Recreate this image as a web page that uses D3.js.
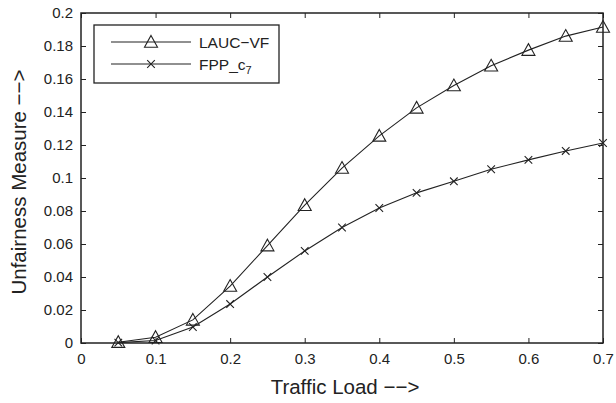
<!DOCTYPE html>
<html><head><meta charset="utf-8">
<script src="https://cdn.jsdelivr.net/npm/d3@7"></script>
<style>body{margin:0;background:#fff;} text{font-family:"Liberation Sans",Arial,sans-serif;fill:#222;}</style>
</head><body><svg id="c" width="616" height="403"></svg>
<script>
const loads = [0.05,0.1,0.15,0.2,0.25,0.3,0.35,0.4,0.45,0.5,0.55,0.6,0.65,0.7];
const laucVF = [0.0005,0.0035,0.014,0.0345,0.059,0.0835,0.106,0.1255,0.1425,0.156,0.168,0.1775,0.186,0.1915];
const fppC7 = [0.0002,0.0015,0.0097,0.0236,0.040,0.0558,0.070,0.0818,0.091,0.098,0.1053,0.111,0.1164,0.1212];
const xTicks = [0,0.1,0.2,0.3,0.4,0.5,0.6,0.7];
const yTicks = [0,0.02,0.04,0.06,0.08,0.1,0.12,0.14,0.16,0.18,0.2];
const seriesNames = ["LAUC\u2212VF","FPP_c"];

const svg = d3.select("#c");
const L=81,R=603,T=13,B=343;
const x = d3.scaleLinear().domain([0,0.7]).range([L,R]);
const y = d3.scaleLinear().domain([0,0.2]).range([B,T]);
const fmt = d => d===0?"0":String(+d.toFixed(2));
const FS = 15;

const tl=5;
const g = svg.append("g");
const ax = g.append("g").attr("transform",`translate(0,${B})`).call(d3.axisBottom(x).tickValues(xTicks).tickSizeInner(-tl).tickSizeOuter(0).tickPadding(10).tickFormat(fmt));
const axT = g.append("g").attr("transform",`translate(0,${T})`).call(d3.axisTop(x).tickValues(xTicks).tickSizeInner(-tl).tickSizeOuter(0).tickFormat(""));
const ay = g.append("g").attr("transform",`translate(${L},0)`).call(d3.axisLeft(y).tickValues(yTicks).tickSizeInner(-tl).tickSizeOuter(0).tickPadding(8).tickFormat(fmt));
const ayR = g.append("g").attr("transform",`translate(${R},0)`).call(d3.axisRight(y).tickValues(yTicks).tickSizeInner(-tl).tickSizeOuter(0).tickFormat(""));
[ax,axT,ay,ayR].forEach(a=>{a.select(".domain").remove();a.selectAll("line").attr("stroke","#222").attr("stroke-width",1);a.selectAll("text").attr("font-size",FS).attr("fill","#222").attr("font-family","Liberation Sans, Arial, sans-serif");});
svg.append("rect").attr("x",L).attr("y",T).attr("width",R-L).attr("height",B-T).attr("fill","none").attr("stroke","#222").attr("stroke-width",1.5);

const line = d3.line().x((d,i)=>x(loads[i])).y(d=>y(d));
svg.append("path").datum(laucVF).attr("d",line).attr("fill","none").attr("stroke","#222").attr("stroke-width",1.1);
svg.append("path").datum(fppC7).attr("d",line).attr("fill","none").attr("stroke","#222").attr("stroke-width",1.1);

const tri = (cx,cy,s=6.5)=>`M${cx},${cy-s}L${cx+s},${cy+s*0.8}L${cx-s},${cy+s*0.8}Z`;
const cross = (cx,cy,s=3.8)=>`M${cx-s},${cy-s}L${cx+s},${cy+s}M${cx-s},${cy+s}L${cx+s},${cy-s}`;
svg.append("g").selectAll("path").data(laucVF).join("path").attr("d",(d,i)=>tri(x(loads[i]),y(d))).attr("fill","none").attr("stroke","#222").attr("stroke-width",1.1);
svg.append("g").selectAll("path").data(fppC7).join("path").attr("d",(d,i)=>cross(x(loads[i]),y(d))).attr("fill","none").attr("stroke","#222").attr("stroke-width",1.1);

const lg = svg.append("g");
lg.append("rect").attr("x",94).attr("y",25).attr("width",185).attr("height",58).attr("fill","#fff").attr("stroke","#222").attr("stroke-width",1.3);
const rows=[42,64];
rows.forEach((ry,i)=>{
  lg.append("line").attr("x1",111).attr("x2",191).attr("y1",ry).attr("y2",ry).attr("stroke","#222").attr("stroke-width",1.1);
  lg.append("path").attr("d",i===0?tri(151,ry):cross(151,ry)).attr("fill","none").attr("stroke","#222").attr("stroke-width",1.1);
});
lg.append("text").attr("x",199).attr("y",rows[0]+5.5).attr("font-size",15.5).text(seriesNames[0]);
const t2 = lg.append("text").attr("x",199).attr("y",rows[1]+5.5).attr("font-size",15.5).text(seriesNames[1]);
t2.append("tspan").attr("dy",4).attr("font-size",11).text("7");

svg.append("text").attr("x",345).attr("y",394).attr("text-anchor","middle").attr("font-size",20.5).text("Traffic Load \u2212\u2212>");
svg.append("text").attr("transform","translate(26,182) rotate(-90)").attr("text-anchor","middle").attr("font-size",20.5).text("Unfairness Measure \u2212\u2212>");
</script></body></html>
